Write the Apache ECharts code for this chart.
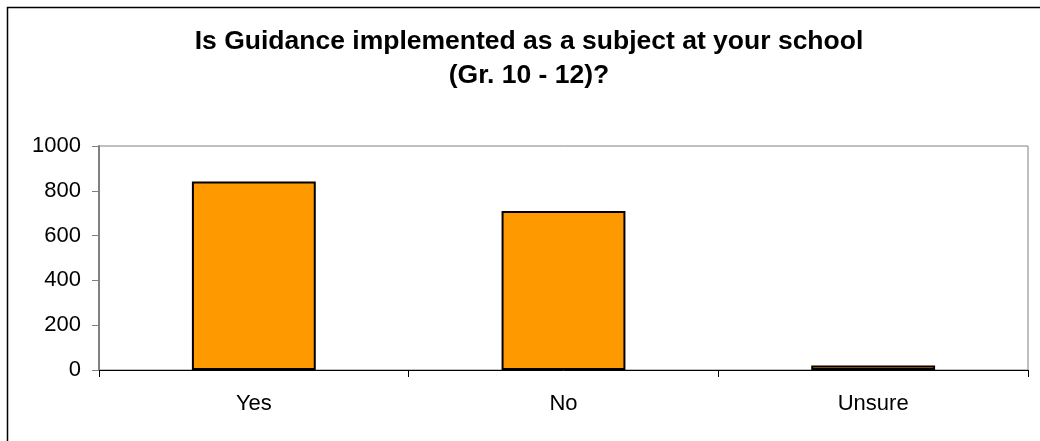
<!DOCTYPE html>
<html>
<head>
<meta charset="utf-8">
<script src="https://cdn.jsdelivr.net/npm/echarts@6/dist/echarts.min.js"></script>
<style>
html,body{margin:0;padding:0;background:#fff;}
#chart{width:1040px;height:441px;}
</style>
</head>
<body>
<div id="chart"></div>
<script>
var titleLines = ['Is Guidance implemented as a subject at your school', '(Gr. 10 - 12)?'];
var categories = ['Yes', 'No', 'Unsure'];
var values = [842, 710, 20];
var yTicks = [0, 200, 400, 600, 800, 1000];

var chart = echarts.init(document.getElementById('chart'), null, {renderer: 'canvas'});
chart.setOption({
  backgroundColor: '#ffffff',
  animation: false,
  textStyle: {fontFamily: 'Liberation Sans, Arial, sans-serif'},
  title: {
    text: titleLines.join('\n'),
    left: 524,
    textAlign: 'center',
    top: 20,
    textStyle: {fontFamily: 'Liberation Sans, Arial, sans-serif', fontWeight: 'bold', fontSize: 26.5, color: '#000', lineHeight: 34}
  },
  graphic: [{
    type: 'rect', silent: true, z: 100,
    shape: {x: 7.5, y: 7.5, width: 1100, height: 500},
    style: {fill: 'none', stroke: '#000', lineWidth: 1.5}
  }],
  grid: {left: 99, right: 12, top: 146, bottom: 71, show: true, borderColor: '#808080', borderWidth: 1, containLabel: false},
  xAxis: {
    type: 'category',
    data: categories,
    axisLine: {lineStyle: {color: '#000', width: 1}},
    axisTick: {show: true, length: 7, lineStyle: {color: '#000'}},
    axisLabel: {fontSize: 22, color: '#000', margin: 23, fontFamily: 'Liberation Sans, Arial, sans-serif'},
    splitLine: {show: false}
  },
  yAxis: {
    type: 'value',
    min: yTicks[0],
    max: yTicks[yTicks.length - 1],
    interval: yTicks[1] - yTicks[0],
    axisLine: {show: true, lineStyle: {color: '#808080', width: 2}},
    axisTick: {show: true, length: 7, lineStyle: {color: '#808080', width: 1}},
    axisLabel: {fontSize: 22, color: '#000', margin: 18, fontFamily: 'Liberation Sans, Arial, sans-serif', formatter: function (v) { return String(v); }},
    splitLine: {show: false}
  },
  series: [{
    type: 'bar',
    data: values,
    barWidth: '40%',
    itemStyle: {color: '#FF9900', borderColor: '#000', borderWidth: 2}
  }]
});
</script>
</body>
</html>
